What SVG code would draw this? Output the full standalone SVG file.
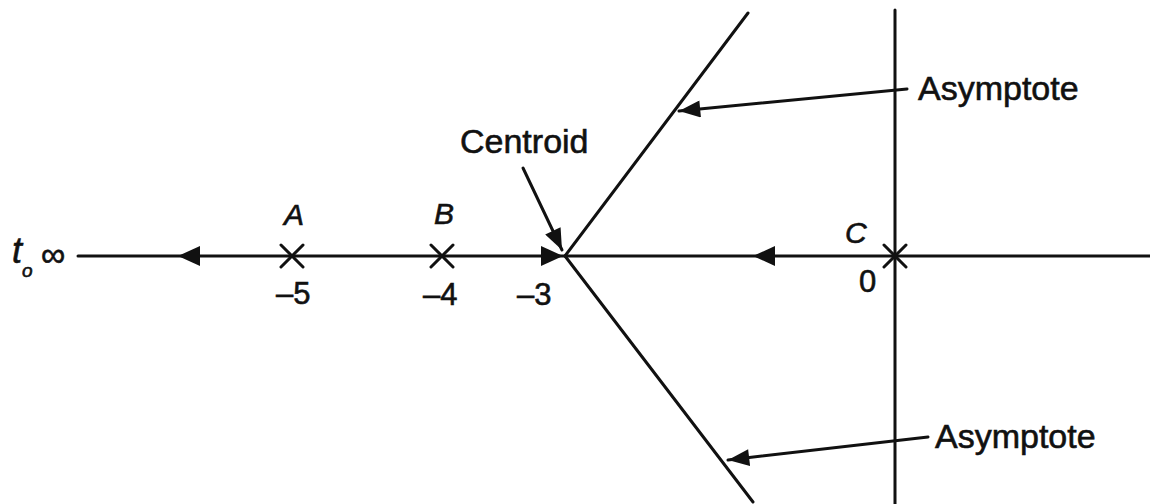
<svg xmlns="http://www.w3.org/2000/svg" width="1150" height="504" viewBox="0 0 1150 504">
<style>
.ln{stroke:#111;stroke-width:3;fill:none;stroke-linecap:round}
.ar{fill:#111;stroke:none}
.t{font-family:"Liberation Sans",Arial,sans-serif;fill:#111;stroke:#111;stroke-width:0.6}
.lbl{font-size:34px}
.it{font-style:italic;font-size:30px}
.num{font-size:31px}
</style>
<defs>
<marker id="ah" viewBox="0 0 20 16" refX="20" refY="8" markerWidth="22" markerHeight="17" markerUnits="userSpaceOnUse" orient="auto">
<path d="M0,0 L20,8 L0,16 Z" fill="#111"/>
</marker>
</defs>
<rect width="1150" height="504" fill="#fff"/>
<g id="connectors">
<line class="ln" x1="78" y1="256" x2="1150" y2="256"/>
<line class="ln" x1="895" y1="10" x2="895" y2="504"/>
<line class="ln" x1="565" y1="256" x2="748" y2="13"/>
<line class="ln" x1="565" y1="256" x2="753" y2="502"/>
<path class="ar" d="M178,256 L200,246 L200,266 Z"/>
<path class="ar" d="M563,256 L541,246 L541,266 Z"/>
<path class="ar" d="M753,256 L775,246 L775,266 Z"/>
<line class="ln" x1="523" y1="168" x2="562" y2="250" marker-end="url(#ah)"/>
<line class="ln" x1="907" y1="89" x2="679" y2="111" marker-end="url(#ah)"/>
<line class="ln" x1="928" y1="437" x2="728" y2="460" marker-end="url(#ah)"/>
</g>
<g id="pole-A">
<path class="ln" d="M281,245 L303,267 M303,245 L281,267"/>
<text class="t it" x="284" y="225">A</text>
<text class="t num" x="276" y="304">–5</text>
</g>
<g id="pole-B">
<path class="ln" d="M431,245 L453,267 M453,245 L431,267"/>
<text class="t it" x="434" y="224">B</text>
<text class="t num" x="423" y="305">–4</text>
</g>
<g id="pole-C">
<path class="ln" d="M884,245 L906,267 M906,245 L884,267"/>
<text class="t it" x="845" y="243">C</text>
<text class="t num" x="859" y="292">0</text>
</g>
<g id="centroid">
<text class="t lbl" x="460" y="153" font-size="33">Centroid</text>
<text class="t num" x="517" y="305">–3</text>
</g>
<g id="asymptote-upper">
<text class="t lbl" x="918" y="100">Asymptote</text>
</g>
<g id="asymptote-lower">
<text class="t lbl" x="935" y="448">Asymptote</text>
</g>
<g id="infinity">
<text class="t" x="12" y="263" font-size="36" font-style="italic">t</text>
<text class="t" x="22" y="277" font-size="19" font-style="italic">o</text>
<text class="t" x="41" y="266" font-size="34">∞</text>
</g>
</svg>
